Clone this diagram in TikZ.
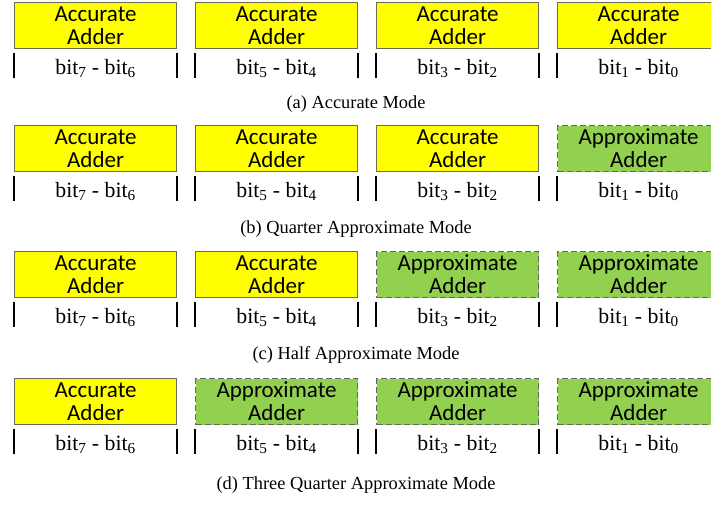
\documentclass[tikz,border=0pt]{standalone}
\usepackage{fontspec}
\setmainfont{Liberation Serif}
\newfontfamily\calib{Carlito}
\definecolor{accfill}{HTML}{FFFF00}
\definecolor{accborder}{HTML}{6B6B50}
\definecolor{apxfill}{HTML}{92D050}
\definecolor{apxborder}{HTML}{666666}
\begin{document}
\begin{tikzpicture}[x=1pt,y=-1pt,
  adder/.style={minimum width=162pt, minimum height=46pt, anchor=north west, inner sep=0pt,
    font=\calib\fontsize{23}{23}\selectfont, align=center, line width=1.2pt},
  acc/.style={adder, fill=accfill, draw=accborder},
  apx/.style={adder, fill=apxfill, draw=apxborder, dash pattern=on 6pt off 3pt},
  bits/.style={font=\fontsize{21.8}{24}\selectfont, inner sep=0pt},
  capt/.style={font=\fontsize{18.4}{20}\selectfont, inner sep=0pt},
  tick/.style={line width=1.6pt, black}]
\useasboundingbox (0,0) rectangle (711,504);
\foreach \r/\t/\cy/\ctext in {1/2/104/(a) Accurate Mode,
                          2/125/229/(b) Quarter Approximate Mode,
                          3/251/355/(c) Half Approximate Mode,
                          4/378/485/(d) Three Quarter Approximate Mode}{
  \foreach \c in {1,2,3,4}{
    \pgfmathtruncatemacro{\xx}{14+181*(\c-1)}
    \pgfmathtruncatemacro{\hi}{9-2*\c}
    \pgfmathtruncatemacro{\lo}{8-2*\c}
    \ifnum\c>\numexpr5-\r\relax
      \node[apx] (b\r\c) at (\xx,\t) {Approximate\\Adder};
    \else
      \node[acc] (b\r\c) at (\xx,\t) {Accurate\\Adder};
    \fi
    \draw[tick] ([yshift=-4pt]b\r\c.south west) -- ++(0,25);
    \draw[tick] ([yshift=-4pt]b\r\c.south east) -- ++(0,25);
    \node[bits] (t\r\c) at ([yshift=-19pt]b\r\c.south) {bit\textsubscript{\hi} - bit\textsubscript{\lo}};
  }
  \node[capt] (cap\r) at (356,\cy) {\ctext};
}
\end{tikzpicture}
\end{document}
